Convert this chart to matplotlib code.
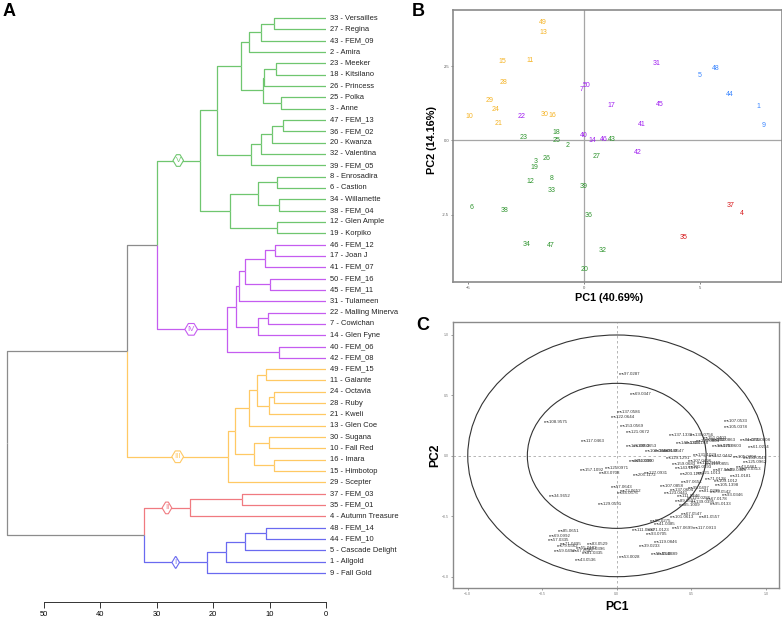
import matplotlib
matplotlib.use("Agg")
import matplotlib.pyplot as plt
from matplotlib.path import Path
from matplotlib.patches import Ellipse

plt.rcParams['font.family'] = ['Liberation Sans', 'DejaVu Sans']

# ---------------- A: dendrogram data ----------------
leaf_ids = [33, 27, 43, 2, 23, 18, 26, 25, 3, 47, 36, 20, 32, 39, 8, 6, 34, 38, 12, 19,
            46, 17, 41, 50, 45, 31, 22, 7, 14, 40, 42, 49, 11, 24, 28, 21, 13, 30, 10, 16,
            15, 29, 37, 35, 4, 48, 44, 5, 1, 9]
leaf_names = ["Versailles", "Regina", "FEM_09", "Amira", "Meeker", "Kitsilano", "Princess",
              "Polka", "Anne", "FEM_13", "FEM_02", "Kwanza", "Valentina", "FEM_05",
              "Enrosadira", "Castion", "Willamette", "FEM_04", "Glen Ample", "Korpiko",
              "FEM_12", "Joan J", "FEM_07", "FEM_16", "FEM_11", "Tulameen", "Malling Minerva",
              "Cowichan", "Glen Fyne", "FEM_06", "FEM_08", "FEM_15", "Galante", "Octavia",
              "Ruby", "Kweli", "Glen Coe", "Sugana", "Fall Red", "Imara", "Himbotop",
              "Scepter", "FEM_03", "FEM_01", "Autumn Treasure", "FEM_14", "FEM_10",
              "Cascade Delight", "Allgold", "Fall Gold"]

# (node, left, right, height)
merges = [
    ("a1", 33, 27, 9.3), ("a2", "a1", 43, 11.6), ("a3", "a2", 2, 13.6),
    ("a4", 23, 18, 8.9), ("a5", "a4", 26, 11.0), ("a6", 25, 3, 8.0),
    ("a7", "a5", "a6", 11.2), ("a8", "a3", "a7", 15.1),
    ("a9", 47, 36, 7.7), ("a10", "a9", 20, 9.5), ("a11", "a10", 32, 11.5),
    ("a12", "a11", 39, 13.3), ("a13", "a8", "a12", 19.4),
    ("a14", 8, 6, 8.7), ("a15", 34, 38, 8.3), ("a16", "a14", "a15", 12.1),
    ("a17", 12, 19, 8.6), ("a18", "a16", "a17", 17.0), ("V", "a13", "a18", 22.3),
    ("b1", 46, 17, 9.0), ("b2", "b1", 41, 10.8), ("b3", 50, 45, 10.0),
    ("b4", "b2", "b3", 14.3), ("b5", "b4", 31, 15.5), ("b6", 22, 7, 10.2),
    ("b7", "b6", 14, 12.1), ("b8", "b5", "b7", 16.0), ("b9", 40, 42, 8.3),
    ("IV", "b8", "b9", 17.6),
    ("c1", 49, 11, 10.6), ("c2", 24, 28, 9.3), ("c3", "c2", 21, 10.1),
    ("c4", "c1", "c3", 12.2), ("c5", "c4", 13, 13.6), ("c6", 30, 10, 10.1),
    ("c7", 16, 15, 9.2), ("c8", "c6", "c7", 12.7), ("c9", "c5", "c8", 16.1),
    ("III", "c9", 29, 17.3),
    ("d1", 37, 35, 14.9), ("II", "d1", 4, 24.2),
    ("e1", 48, 44, 10.6), ("e2", "e1", 5, 14.4), ("e3", "e2", 1, 17.8), ("I", "e3", 9, 21.1),
    ("f1", "V", "IV", 30.0), ("f2", "f1", "III", 35.2), ("f3", "II", "I", 32.2),
    ("root", "f2", "f3", 56.6),
]
clusters = ["V", "IV", "III", "II", "I"]
cluster_colors = ["#6fc66f", "#c55cf0", "#ffc964", "#f07a80", "#6a6af0"]
hex_x = [26.2, 23.9, 26.3, 28.2, 26.65]

# ---------------- B: PCA scores ----------------
score_labels = [49, 13, 15, 11, 28, 29, 24, 10, 21, 30, 16,
                22, 50, 7, 17, 31, 45, 41, 40, 14, 46, 42,
                43, 18, 25, 23, 2, 26, 3, 19, 27, 12, 8, 33, 39, 6, 38, 36, 34, 47, 32, 20,
                5, 48, 44, 1, 9,
                37, 4, 35]
score_pc1 = [-1.8, -1.77, -3.51, -2.31, -3.47, -4.09, -3.8, -4.94, -3.71, -1.71, -1.36,
             -2.7, 0.1, -0.1, 1.19, 3.1, 3.24, 2.46, 0.0, 0.37, 0.86, 2.33,
             1.2, -1.2, -1.21, -2.59, -0.71, -1.61, -2.1, -2.13, 0.53, -2.31, -1.4, -1.41,
             -0.04, -4.87, -3.44, 0.21, -2.5, -1.46, 0.8, 0.03,
             4.99, 5.67, 6.27, 7.51, 7.71,
             6.29, 6.79, 4.29]
score_pc2 = [3.98, 3.64, 2.65, 2.68, 1.94, 1.35, 1.04, 0.82, 0.57, 0.86, 0.83,
             0.81, 1.84, 1.72, 1.18, 2.6, 1.2, 0.55, 0.17, 0.0, 0.04, -0.41,
             0.03, 0.27, 0.0, 0.08, -0.17, -0.61, -0.72, -0.9, -0.56, -1.38, -1.27, -1.68,
             -1.54, -2.25, -2.35, -2.53, -3.51, -3.54, -3.7, -4.34,
             2.19, 2.43, 1.55, 1.13, 0.5,
             -2.21, -2.47, -3.27]
score_group = ["III"] * 11 + ["IV"] * 11 + ["V"] * 20 + ["I"] * 5 + ["II"] * 3
group_colors = {"III": "#f5b324", "IV": "#a020f0", "V": "#2f952f", "I": "#3a86ff", "II": "#d7191c"}

# ---------------- C: PCA loadings ----------------
load_labels = ["ms97.0287", "ms69.0347", "ms137.0586", "ms122.0644", "ms108.9575", "ms153.0569",
               "ms121.0672", "ms117.0463", "ms107.0533", "ms105.0378", "ms137.1330", "ms139.0756",
               "ms149.1328", "ms135.1168", "ms123.0804", "ms95.0859", "ms133.0863", "ms151.0403",
               "ms81.0703", "ms155.0808", "ms61.0274", "ms93.0709", "ms125.0603", "ms121.0653",
               "ms109.0653", "ms109.0648", "ms145.0648", "ms91.0547", "ms131.1023", "ms147.0442",
               "ms105.0704", "ms103.0544", "ms129.1291", "ms115.0390", "ms91.0390", "ms125.0962",
               "ms107.0496", "ms135.0448", "ms119.0855", "ms159.0683", "ms143.1076", "ms101.0593",
               "ms43.0461", "ms73.0313", "ms157.1092", "ms125.0971", "ms83.0708", "ms205.1172",
               "ms127.0931", "ms203.1160", "ms121.1013", "ms87.0445", "ms99.0448", "ms31.0181",
               "ms71.0128", "ms109.1012", "ms97.0651", "ms57.0643", "ms73.0652", "ms94.0576",
               "ms105.1398", "ms107.0858", "ms137.0604", "ms123.0441", "ms95.0497", "ms81.0339",
               "ms79.0542", "ms93.0346", "ms111.0446", "ms121.0286", "ms89.0597", "ms139.0395",
               "ms67.0178", "ms95.0133", "ms85.1009", "ms34.9652", "ms129.0591", "ms67.0547",
               "ms101.0613", "ms81.0557", "ms85.0275", "ms41.0385", "ms111.0809", "ms71.0123",
               "ms57.0699", "ms117.0913", "ms93.0705", "ms119.0846", "ms39.0233", "ms55.0548",
               "ms53.0389", "ms53.0028", "ms85.0651", "ms69.0992", "ms57.0335", "ms71.0495",
               "ms79.0562", "ms83.0529", "ms59.0492", "ms55.0182", "ms65.0396", "ms81.0335",
               "ms67.0543", "ms43.0536"]
load_pc1 = [0.085, 0.16, 0.08, 0.04, -0.41, 0.10, 0.14, -0.16, 0.80, 0.80, 0.43, 0.57,
            0.48, 0.54, 0.61, 0.66, 0.72, 0.66, 0.90, 0.95, 0.95, 0.71, 0.76, 0.14,
            0.19, 0.27, 0.33, 0.38, 0.59, 0.70, 0.86, 0.93, 0.41, 0.16, 0.18, 0.93,
            0.56, 0.62, 0.68, 0.45, 0.47, 0.56, 0.87, 0.90, -0.17, 0.0, -0.05, 0.19,
            0.26, 0.50, 0.62, 0.72, 0.80, 0.83, 0.66, 0.73, 0.50, 0.03, 0.09, 0.07,
            0.74, 0.37, 0.44, 0.40, 0.55, 0.62, 0.70, 0.78, 0.48, 0.55, 0.46, 0.58,
            0.67, 0.70, 0.49, -0.385, -0.045, 0.50, 0.44, 0.62, 0.29, 0.32, 0.18, 0.28,
            0.44, 0.59, 0.27, 0.33, 0.22, 0.30, 0.34, 0.085, -0.32, -0.38, -0.39, -0.31,
            -0.33, -0.13, -0.35, -0.20, -0.15, -0.16, -0.23, -0.21]
load_pc2 = [0.68, 0.51, 0.36, 0.32, 0.28, 0.25, 0.20, 0.12, 0.29, 0.24, 0.17, 0.17,
            0.11, 0.11, 0.12, 0.13, 0.13, 0.145, 0.13, 0.13, 0.075, 0.08, 0.08, 0.08,
            0.08, 0.04, 0.04, 0.04, 0.01, 0.0, -0.01, -0.02, -0.02, -0.04, -0.04, -0.05,
            -0.04, -0.06, -0.07, -0.07, -0.10, -0.09, -0.09, -0.11, -0.12, -0.10, -0.14, -0.16,
            -0.14, -0.15, -0.14, -0.12, -0.12, -0.17, -0.19, -0.21, -0.22, -0.26, -0.29, -0.31,
            -0.24, -0.25, -0.28, -0.31, -0.27, -0.29, -0.30, -0.32, -0.33, -0.35, -0.37, -0.38,
            -0.36, -0.40, -0.41, -0.33, -0.40, -0.48, -0.51, -0.51, -0.54, -0.56, -0.61, -0.61,
            -0.60, -0.60, -0.65, -0.71, -0.75, -0.81, -0.81, -0.84, -0.62, -0.66, -0.70, -0.73,
            -0.75, -0.73, -0.79, -0.76, -0.77, -0.80, -0.79, -0.86]


def hexbox(x0, y0, width, height, mutation_size):
    # hexagon-shaped label box
    padx = 0.35 * mutation_size
    pady = 0.3 * mutation_size
    x0, y0 = x0 - padx, y0 - pady
    width, height = width + 2 * padx, height + 2 * pady
    x1, y1, ym = x0 + width, y0 + height, y0 + height / 2
    d = height * 0.3
    return Path([(x0, ym), (x0 + d, y0), (x1 - d, y0), (x1, ym),
                 (x1 - d, y1), (x0 + d, y1), (x0, ym)], closed=True)


W, H = 782, 619
fig = plt.figure(figsize=(W / 100, H / 100), dpi=100)


def fbox(l, t, r, b):
    return [l / W, 1 - b / H, (r - l) / W, (b - t) / H]


# ---------------- A ----------------
ax = fig.add_axes(fbox(2, 10, 326, 601.7))
ypos, height, children = {}, {}, {}
for i, lid in enumerate(leaf_ids):
    ypos[lid] = i
    height[lid] = 0.0
for name, a, b, h in merges:
    ypos[name] = (ypos[a] + ypos[b]) / 2
    height[name] = h
    children[name] = (a, b)

color = {k: "#8c8c8c" for k in ypos}


def paint(node, col):
    color[node] = col
    for c in children.get(node, ()):
        paint(c, col)


for cl, col in zip(clusters, cluster_colors):
    paint(cl, col)

for name, a, b, h in merges:
    for c in (a, b):
        ax.plot([height[c], h, h], [ypos[c], ypos[c], ypos[name]],
                color=color[c], lw=0.9, solid_capstyle='butt')

for i, (lid, nm) in enumerate(zip(leaf_ids, leaf_names)):
    ax.annotate(f"{lid} - {nm}", (0, i), xytext=(3, 0), textcoords='offset points',
                va='center', ha='left', fontsize=5.4, color='#222222', annotation_clip=False)

for cl, col, hx in zip(clusters, cluster_colors, hex_x):
    ax.text(hx, ypos[cl], cl, ha='center', va='center', fontsize=5.6, color=col,
            zorder=5, bbox=dict(boxstyle=hexbox, fc='white', ec=col, lw=0.8))

ax.set_xlim(57.45, 0)
ax.set_ylim(51.53, -0.71)
for s in ['top', 'right', 'left']:
    ax.spines[s].set_visible(False)
ax.spines['bottom'].set_bounds(50, 0)
ax.spines['bottom'].set_color('#333333')
ax.spines['bottom'].set_linewidth(0.7)
ax.set_yticks([])
ax.set_xticks([50, 40, 30, 20, 10, 0])
ax.tick_params(axis='x', labelsize=5.4, length=4, width=0.7, color='#333333', pad=3)
fig.text(9 / W, 1 - 11 / H, "A", fontsize=13, fontweight='bold', ha='center', va='center')

# ---------------- B ----------------
bx = fig.add_axes(fbox(453.3, 10, 781.7, 281.7))
bx.axhline(0, color='#a6a6a6', lw=0.9, zorder=0)
bx.axvline(0, color='#a6a6a6', lw=0.9, zorder=0)
for lab, x, y, g in zip(score_labels, score_pc1, score_pc2, score_group):
    bx.text(x, y, str(lab), color=group_colors[g], fontsize=5, ha='center', va='center')
bx.set_xlim(-5.64, 8.51)
bx.set_ylim(-4.76, 4.39)
bx.set_xticks([-5, 0, 5])
bx.set_yticks([-2.5, 0, 2.5])
bx.set_yticklabels(["-2.5", "0.0", "2.5"])
bx.tick_params(labelsize=3, length=1.5, width=0.5, colors='#555555', pad=1.5)
for s in bx.spines.values():
    s.set_color('#8a8a8a')
    s.set_linewidth(1.2)
fig.text(609 / W, 1 - 298 / H, "PC1 (40.69%)", fontsize=7.8, fontweight='bold',
         ha='center', va='center')
fig.text(432 / W, 1 - 140 / H, "PC2 (14.16%)", fontsize=7.8, fontweight='bold',
         ha='center', va='center', rotation=90)
fig.text(418 / W, 1 - 12 / H, "B", fontsize=13, fontweight='bold', ha='center', va='center')

# ---------------- C ----------------
cx = fig.add_axes(fbox(453.3, 321.7, 779, 588.3))
cx.axhline(0, color='#aaaaaa', lw=0.6, ls=(0, (3, 3)), zorder=0)
cx.axvline(0, color='#aaaaaa', lw=0.6, ls=(0, (3, 3)), zorder=0)
for r in (1.0, 0.6):
    cx.add_patch(Ellipse((0, 0), 2 * r, 2 * r, fill=False, ec='#333333', lw=0.8))
for lab, x, y in zip(load_labels, load_pc1, load_pc2):
    cx.text(x, y, lab, fontsize=3.2, color='#333333', ha='center', va='center')
cx.set_xlim(-1.097, 1.089)
cx.set_ylim(-1.096, 1.11)
cx.set_xticks([-1.0, -0.5, 0.0, 0.5, 1.0])
cx.set_yticks([-1.0, -0.5, 0.0, 0.5, 1.0])
cx.tick_params(labelsize=2.5, length=1.5, width=0.5, colors='#777777', pad=1.5)
for s in cx.spines.values():
    s.set_color('#8a8a8a')
    s.set_linewidth(1.0)
fig.text(616.7 / W, 1 - 607 / H, "PC1", fontsize=8.7, fontweight='bold', ha='center', va='center')
fig.text(435 / W, 1 - 455 / H, "PC2", fontsize=8.7, fontweight='bold', ha='center',
         va='center', rotation=90)
fig.text(423 / W, 1 - 325 / H, "C", fontsize=13, fontweight='bold', ha='center', va='center')

fig.savefig("out.png", dpi=100)
